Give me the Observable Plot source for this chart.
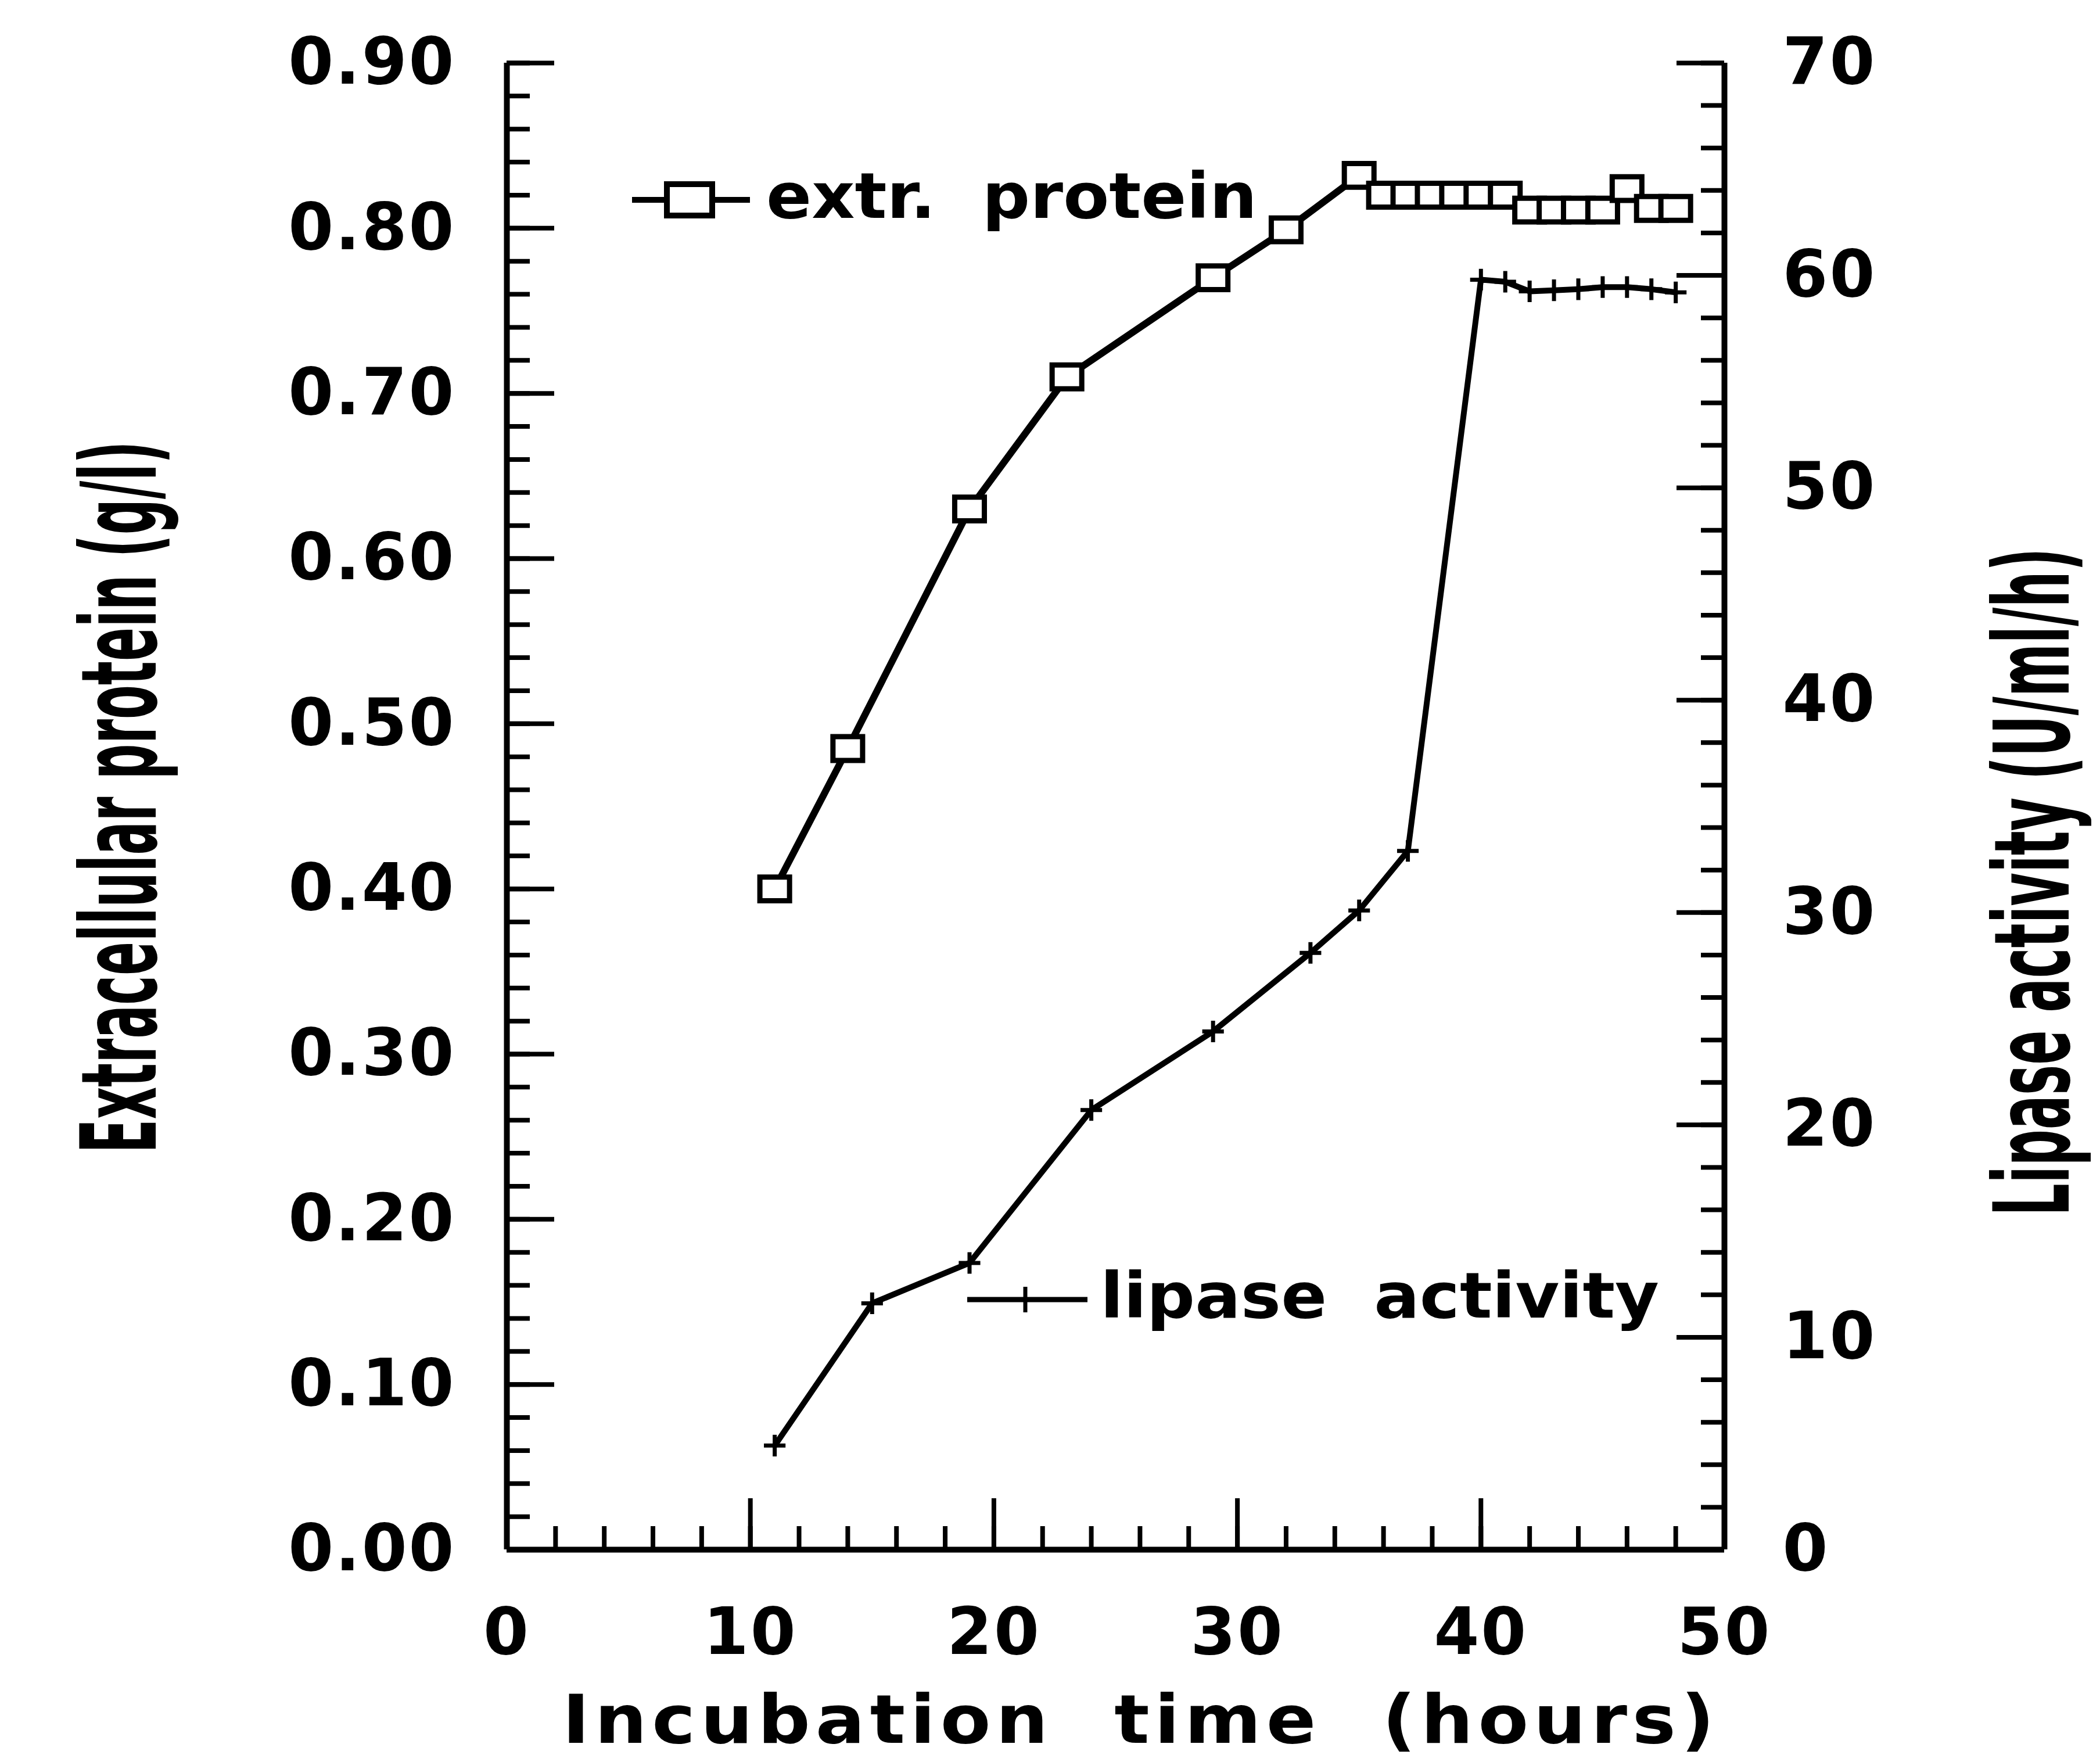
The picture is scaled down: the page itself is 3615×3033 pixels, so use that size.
<!DOCTYPE html>
<html>
<head>
<meta charset="utf-8">
<script src="https://cdn.jsdelivr.net/npm/d3@7"></script>
<script src="https://cdn.jsdelivr.net/npm/@observablehq/plot@0.6"></script>
<style>
  html, body { margin: 0; padding: 0; background: #fff; }
  #chart { position: relative; width: 3615px; height: 3033px; background: #fff; overflow: hidden; }
  #chart > svg { position: absolute; left: 0; top: 0; max-width: none !important; }
  .pre { white-space: pre; }
</style>
</head>
<body>
<div id="chart"></div>
<script>
// ---------------- data ----------------
const proteinHours  = [11, 14, 19, 23, 29, 32, 35, 36, 37, 38, 39, 40, 41, 42, 43, 44, 45, 46, 47, 48];
const proteinValues = [0.400, 0.485, 0.630, 0.710, 0.770, 0.799, 0.832, 0.820, 0.820, 0.820, 0.820, 0.820, 0.820, 0.811, 0.811, 0.811, 0.811, 0.824, 0.812, 0.812];

const lipaseHours  = [11, 15, 19, 24, 29, 33, 35, 37, 40, 41, 42, 43, 44, 45, 46, 47, 48];
const lipaseValues = [4.9, 11.6, 13.5, 20.7, 24.4, 28.1, 30.1, 32.9, 59.8, 59.7, 59.25, 59.3, 59.35, 59.45, 59.45, 59.35, 59.2];

const xTickLabels     = [0, 10, 20, 30, 40, 50];
const leftTickLabels  = [0, 0.1, 0.2, 0.3, 0.4, 0.5, 0.6, 0.7, 0.8, 0.9];
const rightTickLabels = [0, 10, 20, 30, 40, 50, 60, 70];

const xTitle      = "Incubation  time  (hours)";
const leftTitle   = "Extracellular protein (g/l)";
const rightTitle  = "Lipase activity (U/ml/h)";
const proteinName = "extr.  protein";
const lipaseName  = "lipase  activity";

// ---------------- layout ----------------
const W = 3615, H = 3033;
const M = {top: 108, right: 647, bottom: 366, left: 872};
const innerW = W - M.left - M.right;
const innerH = H - M.top - M.bottom;
const MAJOR = 82, MINOR = 40;

const xMinorTicks     = d3.range(0, 50.001, 2);
const leftMinorTicks  = d3.range(0, 0.9001, 0.02);
const rightMinorTicks = d3.range(0, 70.001, 2);

const protein = proteinHours.map((h, i) => ({hours: h, value: proteinValues[i]}));
const lipase  = lipaseHours.map((h, i) => ({hours: h, value: lipaseValues[i]}));

// slightly wide open rectangle marker, like the original plotter's squares
const rectSymbol = {
  draw(ctx, size) {
    const s = Math.sqrt(size);
    const w = s * 0.6, h = s * 0.48;
    ctx.moveTo(-w, -h); ctx.lineTo(w, -h); ctx.lineTo(w, h); ctx.lineTo(-w, h); ctx.closePath();
  }
};

const baseStyle = {
  fontFamily: "'DejaVu Sans', sans-serif",
  fontWeight: "bold",
  fontSize: "112px",
  letterSpacing: "3px",
  color: "black",
  overflow: "visible"
};

const common = {
  width: W, height: H,
  marginTop: M.top, marginRight: M.right, marginBottom: M.bottom, marginLeft: M.left,
};

const leftPlot = Plot.plot({
  ...common,
  style: {...baseStyle, background: "white"},
  x: {domain: [0, 50], label: null},
  y: {domain: [0, 0.9], label: null},
  marks: [
    Plot.tickX(xMinorTicks, {x: d => d, insetTop: innerH - MINOR, strokeWidth: 8}),
    Plot.tickX(xTickLabels, {x: d => d, insetTop: innerH - MAJOR - 6, strokeWidth: 8}),
    Plot.tickY(leftMinorTicks, {y: d => d, insetRight: innerW - MINOR, strokeWidth: 8}),
    Plot.tickY(leftTickLabels, {y: d => d, insetRight: innerW - MAJOR, strokeWidth: 8}),
    Plot.ruleX([0], {strokeWidth: 10}),
    Plot.ruleY([0], {strokeWidth: 10}),
    Plot.axisX(xTickLabels, {tickSize: 0, tickPadding: 100, tickFormat: d => String(d), label: null}),
    Plot.axisY(leftTickLabels, {tickSize: 0, tickPadding: 88, tickFormat: d3.format(".2f"), label: null}),
    Plot.line(protein, {x: "hours", y: "value", stroke: "black", strokeWidth: 12}),
    Plot.dot(protein, {x: "hours", y: "value", symbol: rectSymbol, r: 24, fill: "white", stroke: "black", strokeWidth: 9})
  ]
});

const rightPlot = Plot.plot({
  ...common,
  style: {...baseStyle, background: "transparent"},
  x: {domain: [0, 50], label: null, axis: null},
  y: {domain: [0, 70], label: null},
  marks: [
    Plot.tickY(rightMinorTicks, {y: d => d, insetLeft: innerW - MINOR, strokeWidth: 8}),
    Plot.tickY(rightTickLabels, {y: d => d, insetLeft: innerW - MAJOR, strokeWidth: 8}),
    Plot.ruleX([50], {strokeWidth: 10}),
    Plot.axisY(rightTickLabels, {anchor: "right", tickSize: 0, tickPadding: 100, tickFormat: d => String(d), label: null}),
    Plot.line(lipase, {x: "hours", y: "value", stroke: "black", strokeWidth: 10}),
    Plot.dot(lipase, {x: "hours", y: "value", symbol: "plus", r: 12, stroke: "black", strokeWidth: 7})
  ]
});

const chart = document.getElementById("chart");
chart.appendChild(leftPlot);
chart.appendChild(rightPlot);

// ---------------- titles & legend (overlay) ----------------
const ov = d3.select(chart).append("svg")
  .attr("width", W).attr("height", H)
  .style("position", "absolute").style("left", 0).style("top", 0)
  .style("font-family", "'DejaVu Sans', sans-serif").style("font-weight", "bold");

// x title (wide, extended lettering)
ov.append("text").attr("class", "pre")
  .attr("x", 968).attr("y", 3000)
  .attr("font-size", 116)
  .attr("letter-spacing", 8)
  .attr("textLength", 1992).attr("lengthAdjust", "spacingAndGlyphs")
  .text(xTitle);

// condensed rotated titles: compress glyphs with a transform measured from the text itself
function condensedTitle(str, cx, baseX, target) {
  const t = ov.append("text")
    .attr("text-anchor", "middle")
    .attr("font-family", "'DejaVu Sans Condensed','Liberation Sans Narrow','DejaVu Sans',sans-serif")
    .attr("font-size", 180)
    .text(str);
  const natural = t.node().getComputedTextLength();
  const sx = target / natural;
  t.attr("transform", `translate(${baseX},${cx}) rotate(-90) scale(${sx},1)`);
}
condensedTitle(leftTitle, 1372, 268, 1226);
condensedTitle(rightTitle, 1518, 3561, 1150);

// legend: extr. protein
const lg1 = ov.append("g");
lg1.append("line").attr("x1", 1088).attr("x2", 1291).attr("y1", 344).attr("y2", 344)
  .attr("stroke", "black").attr("stroke-width", 10);
lg1.append("rect").attr("x", 1187 - 39).attr("y", 344 - 27).attr("width", 78).attr("height", 54)
  .attr("fill", "white").attr("stroke", "black").attr("stroke-width", 10);
lg1.append("text").attr("class", "pre").attr("x", 1319).attr("y", 375).attr("font-size", 108)
  .attr("textLength", 845).attr("lengthAdjust", "spacingAndGlyphs").text(proteinName);

// legend: lipase activity
const lg2 = ov.append("g");
lg2.append("line").attr("x1", 1665).attr("x2", 1872).attr("y1", 2237).attr("y2", 2237)
  .attr("stroke", "black").attr("stroke-width", 9);
lg2.append("line").attr("x1", 1765).attr("x2", 1765).attr("y1", 2215).attr("y2", 2259)
  .attr("stroke", "black").attr("stroke-width", 7);
lg2.append("text").attr("class", "pre").attr("x", 1894).attr("y", 2268).attr("font-size", 108)
  .attr("textLength", 962).attr("lengthAdjust", "spacingAndGlyphs").text(lipaseName);
</script>
</body>
</html>
